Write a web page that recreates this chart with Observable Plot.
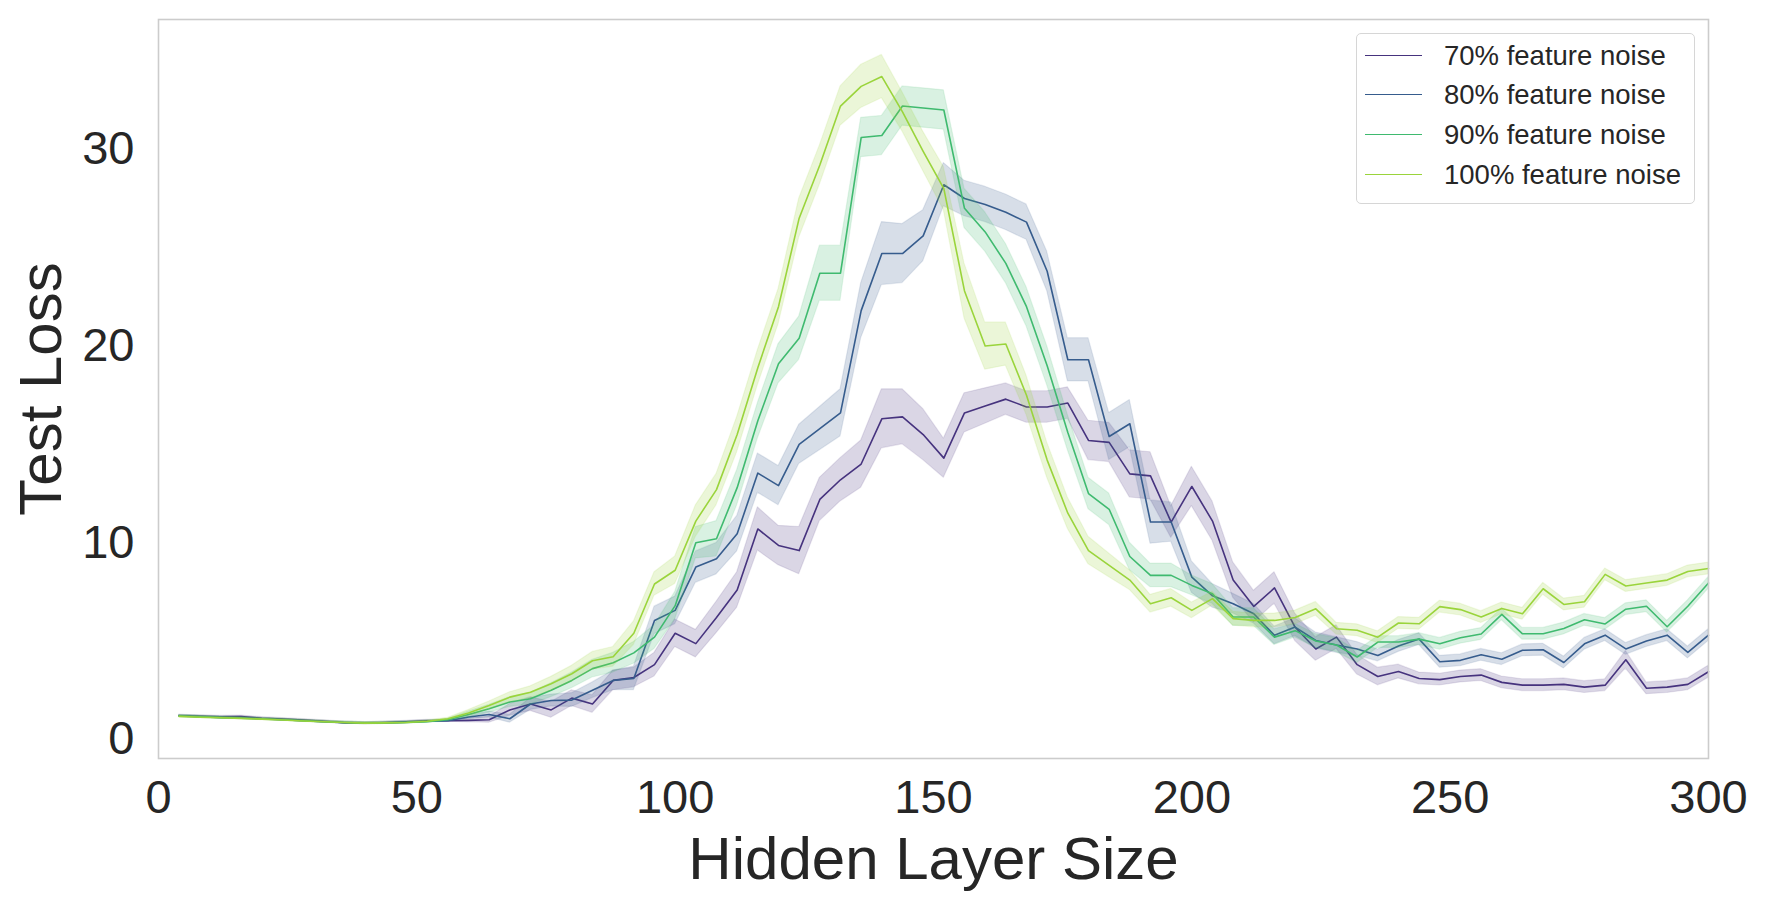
<!DOCTYPE html>
<html><head><meta charset="utf-8">
<script src="https://cdn.jsdelivr.net/npm/d3@7"></script>
<script src="https://cdn.jsdelivr.net/npm/@observablehq/plot@0.6"></script>
<style>
body{margin:0;background:#fff;}
#wrap{position:relative;width:1767px;height:908px;font-family:"Liberation Sans",Arial,sans-serif;color:#262626;}
.legend{position:absolute;left:1356px;top:33px;width:339px;height:171px;border:1.5px solid #d6d6d6;border-radius:5px;background:rgba(255,255,255,0.85);box-sizing:border-box;}
.row{position:absolute;left:0;height:0;}
.sw{position:absolute;left:8px;width:57px;height:0;border-top:1.8px solid;top:-1px;}
.lab{position:absolute;left:87px;top:-16px;font-size:27.5px;line-height:32px;white-space:nowrap;color:#262626;}
</style></head>
<body><div id="wrap"></div>
<script>
const sizes = [4,8,12,16,20,24,28,32,36,40,44,48,52,56,60,64,68,72,76,80,84,88,92,96,100,104,108,112,116,120,124,128,132,136,140,144,148,152,156,160,164,168,172,176,180,184,188,192,196,200,204,208,212,216,220,224,228,232,236,240,244,248,252,256,260,264,268,272,276,280,284,288,292,296,300];

const seriesLabels = ["70% feature noise","80% feature noise","90% feature noise","100% feature noise"];
const seriesColors = ["#46337e","#365c8d","#3fba6f","#9ad43b"];

const loss70 = [1.20,1.17,1.15,1.16,1.08,1.03,0.98,0.92,0.85,0.82,0.86,0.90,0.95,0.95,0.97,1.00,1.50,1.80,1.50,2.10,1.80,3.00,3.15,3.80,5.40,4.87,6.20,7.60,10.7,9.86,9.60,12.2,13.2,14.0,16.3,16.4,15.5,14.3,16.6,16.95,17.3,16.9,16.9,17.1,15.2,15.1,13.5,13.4,11.05,12.86,11.1,8.10,6.76,7.70,5.70,4.60,5.20,3.80,3.20,3.45,3.10,3.04,3.20,3.27,2.90,2.76,2.76,2.80,2.66,2.76,4.05,2.60,2.66,2.80,3.44];
const loss80 = [1.20,1.16,1.12,1.10,1.05,1.00,0.95,0.90,0.85,0.82,0.84,0.88,0.92,0.95,1.14,1.27,1.05,1.80,1.98,2.00,2.50,3.00,3.10,6.05,6.56,8.76,9.19,10.46,13.54,12.9,15.0,15.8,16.6,21.8,24.7,24.7,25.6,28.2,27.5,27.2,26.8,26.3,23.8,19.3,19.3,15.4,16.05,11.05,11.05,8.25,7.30,6.90,6.39,5.29,5.71,5.03,4.80,4.60,4.27,4.75,5.10,3.95,4.02,4.30,4.08,4.53,4.56,3.91,4.86,5.30,4.60,5.00,5.30,4.42,5.30];
const loss90 = [1.19,1.15,1.11,1.08,1.04,1.00,0.95,0.90,0.86,0.83,0.84,0.86,0.90,1.00,1.27,1.56,1.90,2.07,2.50,3.00,3.60,3.90,4.40,5.20,6.80,10.0,10.2,12.8,16.2,19.1,20.4,23.7,23.7,30.6,30.7,32.2,32.1,32.0,27.0,25.8,24.2,22.0,19.0,15.6,12.5,11.7,9.30,8.34,8.34,7.83,7.40,6.22,6.22,5.20,5.53,5.00,4.80,4.19,4.95,4.95,5.10,4.86,5.17,5.36,6.36,5.37,5.37,5.64,6.08,5.87,6.62,6.77,5.73,6.77,7.95];
const loss100 = [1.17,1.13,1.10,1.07,1.03,0.99,0.94,0.90,0.86,0.83,0.84,0.86,0.92,1.05,1.34,1.73,2.15,2.40,2.83,3.34,4.00,4.20,5.40,7.90,8.60,11.1,12.7,15.5,18.9,22.0,26.5,29.2,32.2,33.2,33.7,31.9,29.9,28.0,22.8,20.0,20.1,17.5,14.2,11.5,9.60,8.85,8.10,6.90,7.20,6.56,7.16,6.14,6.05,6.05,6.20,6.64,5.63,5.55,5.20,5.92,5.88,6.75,6.60,6.22,6.66,6.39,7.66,6.86,7.00,8.39,7.80,7.95,8.10,8.54,8.69];

const ci70 = [0.05,0.05,0.05,0.05,0.05,0.05,0.05,0.05,0.05,0.05,0.05,0.05,0.05,0.05,0.10,0.15,0.30,0.35,0.40,0.40,0.45,0.50,0.50,0.60,0.70,0.70,0.80,0.90,1.10,1.00,1.20,1.10,1.10,1.20,1.50,1.40,1.30,1.00,1.00,0.90,0.80,0.80,0.80,0.80,1.00,1.00,1.20,1.20,0.80,1.00,1.00,0.90,0.80,0.80,0.70,0.60,0.60,0.50,0.45,0.35,0.30,0.30,0.30,0.30,0.30,0.30,0.30,0.30,0.30,0.30,0.45,0.30,0.30,0.30,0.30];
const ci80 = [0.05,0.05,0.05,0.05,0.05,0.05,0.05,0.05,0.05,0.05,0.05,0.05,0.05,0.05,0.10,0.15,0.20,0.30,0.30,0.35,0.40,0.50,0.60,0.70,0.70,0.80,0.80,0.90,1.00,1.00,1.00,1.10,1.20,1.40,1.60,1.50,1.30,1.10,0.90,0.90,0.90,0.90,1.00,1.10,1.10,1.20,1.20,1.10,1.00,0.80,0.60,0.50,0.50,0.45,0.45,0.40,0.40,0.35,0.30,0.30,0.30,0.30,0.30,0.30,0.30,0.30,0.30,0.30,0.30,0.30,0.30,0.30,0.30,0.30,0.30];
const ci90 = [0.05,0.05,0.05,0.05,0.05,0.05,0.05,0.05,0.05,0.05,0.05,0.05,0.05,0.05,0.15,0.20,0.25,0.30,0.35,0.40,0.45,0.50,0.55,0.60,0.70,0.80,0.90,0.90,0.90,1.00,1.10,1.40,1.40,1.00,1.00,1.00,1.00,1.00,1.00,1.00,1.00,1.00,1.00,0.90,0.80,0.80,0.70,0.60,0.60,0.50,0.50,0.45,0.45,0.40,0.35,0.35,0.35,0.30,0.30,0.30,0.30,0.30,0.30,0.30,0.30,0.30,0.30,0.30,0.30,0.30,0.30,0.30,0.30,0.30,0.30];
const ci100 = [0.05,0.05,0.05,0.05,0.05,0.05,0.05,0.05,0.05,0.05,0.05,0.05,0.05,0.05,0.15,0.20,0.25,0.30,0.35,0.40,0.45,0.50,0.60,0.60,0.70,0.80,0.80,0.90,0.90,0.90,1.00,1.00,1.00,1.10,1.10,1.00,1.00,1.10,1.40,1.20,1.10,1.00,0.90,0.80,0.70,0.60,0.50,0.45,0.45,0.40,0.35,0.35,0.35,0.35,0.35,0.35,0.30,0.30,0.30,0.30,0.30,0.30,0.30,0.30,0.30,0.30,0.30,0.30,0.30,0.30,0.30,0.30,0.30,0.30,0.30];

const xTicks = [0,50,100,150,200,250,300];
const yTicks = [0,10,20,30];

const lossSets = [loss70, loss80, loss90, loss100];
const ciSets = [ci70, ci80, ci90, ci100];

const rowsBySeries = seriesLabels.map((lab, s) => sizes.map((x, i) => ({
  series: lab, size: x, loss: lossSets[s][i],
  lo: lossSets[s][i] - ciSets[s][i], hi: lossSets[s][i] + ciSets[s][i]
})));

const seriesMarks = rowsBySeries.flatMap(rows => [
  Plot.areaY(rows, {x: "size", y1: "lo", y2: "hi", fill: "series", fillOpacity: 0.2, stroke: "series", strokeOpacity: 0.12, strokeWidth: 1.2}),
  Plot.lineY(rows, {x: "size", y: "loss", stroke: "series", strokeWidth: 1.6})
]);

const chart = Plot.plot({
  width: 1767, height: 908,
  marginLeft: 158, marginRight: 59, marginTop: 19, marginBottom: 150,
  x: {domain: [0, 300]},
  y: {domain: [-0.97, 36.6]},
  color: {domain: seriesLabels, range: seriesColors},
  style: {fontFamily: '"Liberation Sans", Arial, sans-serif', color: "#262626", background: "white"},
  marks: [
    ...seriesMarks,
    Plot.frame({stroke: "#cccccc", strokeWidth: 1.6}),
    Plot.axisX({ticks: xTicks, tickSize: 0, tickPadding: 21, fontSize: 47, label: null}),
    Plot.axisY({ticks: yTicks, tickSize: 0, tickPadding: 24, fontSize: 47, label: null}),
    Plot.text(["Hidden Layer Size"], {frameAnchor: "bottom", lineAnchor: "middle", textAnchor: "middle", dy: 101, fontSize: 60, fill: "#262626"}),
    Plot.text(["Test Loss"], {frameAnchor: "left", lineAnchor: "middle", textAnchor: "middle", dx: -117, rotate: -90, fontSize: 60, fill: "#262626"})
  ]
});

const wrap = document.getElementById("wrap");
wrap.appendChild(chart);

const legend = document.createElement("div");
legend.className = "legend";
const rowTops = [22, 61, 101, 141];
seriesLabels.forEach((lab, i) => {
  const r = document.createElement("div");
  r.className = "row";
  r.style.top = rowTops[i] + "px";
  const sw = document.createElement("div");
  sw.className = "sw";
  sw.style.borderTopColor = seriesColors[i];
  const t = document.createElement("div");
  t.className = "lab";
  t.textContent = lab;
  r.appendChild(sw); r.appendChild(t);
  legend.appendChild(r);
});
wrap.appendChild(legend);
</script>
</body></html>
